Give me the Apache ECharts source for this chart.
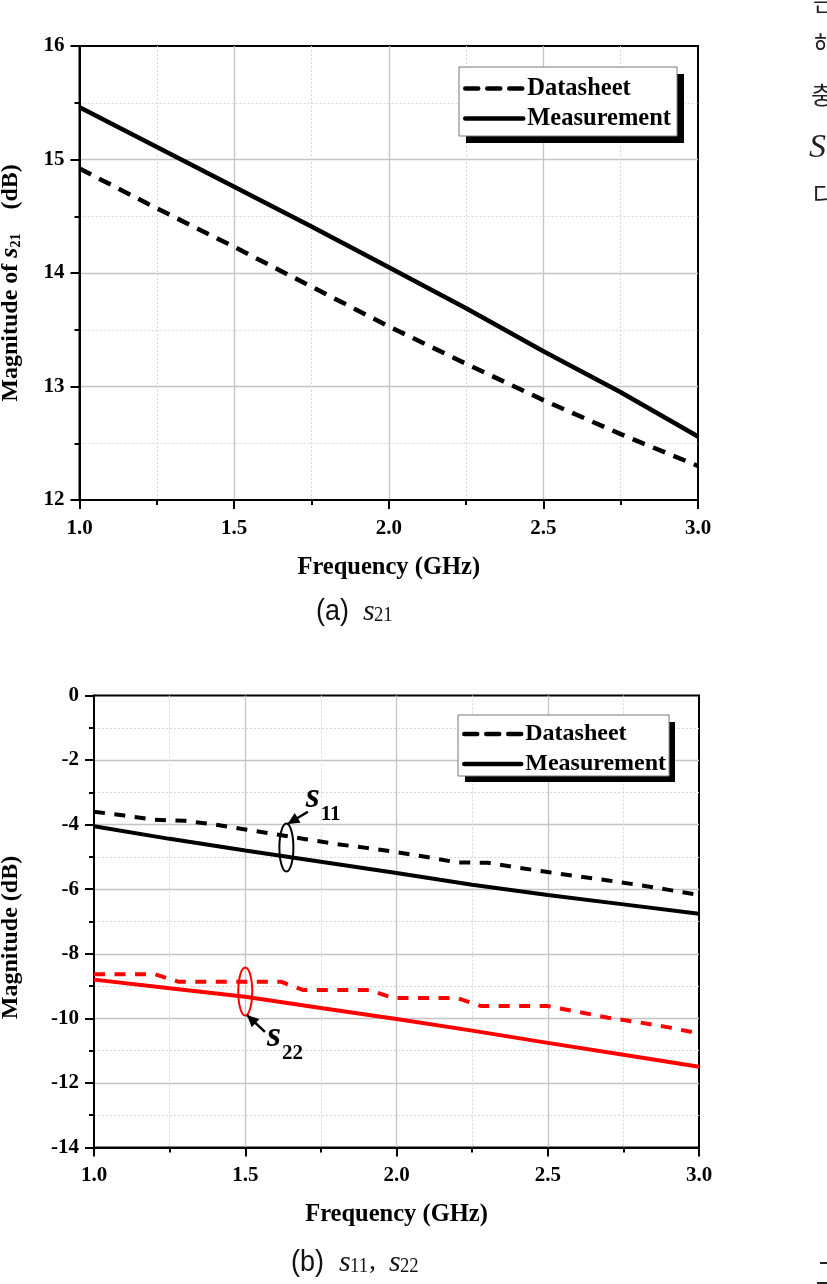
<!DOCTYPE html>
<html>
<head>
<meta charset="utf-8">
<style>
  html, body { margin: 0; padding: 0; background: #fff; }
  #chart { width: 827px; height: 1284px; }
</style>
<script src="https://cdn.jsdelivr.net/npm/echarts@6/dist/echarts.min.js"></script>
</head>
<body>
<div id="chart"></div>
<script>
const FONT = '"Liberation Serif", serif';

// (a) s21
const s21Freq = [1.0, 1.25, 1.5, 1.75, 2.0, 2.25, 2.5, 2.75, 3.0];
const s21Datasheet = [14.92, 14.57, 14.23, 13.88, 13.53, 13.2, 12.88, 12.58, 12.3];
const s21Measurement = [15.46, 15.11, 14.76, 14.41, 14.05, 13.69, 13.31, 12.95, 12.56];

// (b) s11, s22
const s11DatasheetPts = [[1.0, -3.6], [1.1, -3.72], [1.2, -3.85], [1.3, -3.88], [1.4, -4.0], [1.5, -4.15], [1.6, -4.3], [1.7, -4.45], [1.8, -4.6], [1.9, -4.72], [2.0, -4.85], [2.1, -5.0], [2.2, -5.17], [2.3, -5.18], [2.4, -5.33], [2.5, -5.47], [2.6, -5.6], [2.7, -5.73], [2.8, -5.87], [2.9, -6.02], [3.0, -6.18]];
const s11MeasurementPts = [[1.0, -4.05], [1.25, -4.44], [1.5, -4.8], [1.75, -5.15], [2.0, -5.5], [2.25, -5.86], [2.5, -6.18], [2.75, -6.47], [3.0, -6.76]];
const s22DatasheetPts = [[1.0, -8.63], [1.2, -8.63], [1.28, -8.87], [1.62, -8.87], [1.69, -9.12], [1.91, -9.12], [1.99, -9.37], [2.2, -9.37], [2.28, -9.62], [2.5, -9.62], [2.6, -9.8], [2.7, -9.98], [2.8, -10.12], [2.9, -10.28], [3.0, -10.47]];
const s22MeasurementPts = [[1.0, -8.8], [1.25, -9.07], [1.5, -9.33], [1.75, -9.68], [2.0, -10.02], [2.25, -10.38], [2.5, -10.76], [2.75, -11.13], [3.0, -11.5]];

// ellipse: [freq, dB, color], arrow: from / to, label anchor
const ringS11 = [1.636, -4.71, '#000'];
const ringS22 = [1.5, -9.17, '#f00'];
const arrowS11 = [[1.707, -3.6], [1.64, -3.98]];
const arrowS22 = [[1.565, -10.42], [1.506, -9.9]];
const labelS11 = [1.7, -3.17, '11'];
const labelS22 = [1.572, -10.57, '22'];

const xTicks = { min: 1, max: 3, interval: 0.5 };

function xAxis(gridIndex) {
  return {
    type: 'value', gridIndex, ...xTicks,
    name: 'Frequency (GHz)', nameLocation: 'middle', nameGap: 55,
    nameTextStyle: { fontFamily: FONT, fontWeight: 'bold', fontSize: 24.5, color: '#000' },
    axisLine: { onZero: false, lineStyle: { color: '#000', width: 2 } },
    axisTick: { length: 9, lineStyle: { color: '#000', width: 2 } },
    minorTick: { show: true, splitNumber: 2, length: 5, lineStyle: { color: '#000', width: 2 } },
    axisLabel: { fontFamily: FONT, fontWeight: 'bold', fontSize: 21, color: '#000', margin: 18, formatter: v => v.toFixed(1), showMinLabel: true, showMaxLabel: true },
    splitLine: { show: true, showMinLine: false, showMaxLine: false, lineStyle: { color: '#c4c4c4', width: 1.3 } },
    minorSplitLine: { show: true, lineStyle: { color: '#d8d8d8', width: 1, type: [2, 2] } }
  };
}

function yAxis(gridIndex, min, max, interval, name, nameGap, shift) {
  return {
    type: 'value', gridIndex, min, max, interval,
    name, nameLocation: 'middle', nameGap,
    nameTextStyle: {
      fontFamily: FONT, fontWeight: 'bold', fontSize: 24, color: '#000',
      padding: [0, shift, 0, 0],
      rich: {
        a: { fontFamily: FONT, fontWeight: 'bold', fontSize: 24, color: '#000' },
        i: { fontFamily: FONT, fontWeight: 'bold', fontStyle: 'italic', fontSize: 26, color: '#000' },
        sub: { fontFamily: FONT, fontWeight: 'bold', fontSize: 14, color: '#000', verticalAlign: 'bottom', lineHeight: 14 }
      }
    },
    axisLine: { onZero: false, lineStyle: { color: '#000', width: 2 } },
    axisTick: { length: 9, lineStyle: { color: '#000', width: 2 } },
    minorTick: { show: true, splitNumber: 2, length: 5, lineStyle: { color: '#000', width: 2 } },
    axisLabel: { fontFamily: FONT, fontWeight: 'bold', fontSize: 21, color: '#000', margin: 15, padding: [3, 0, 0, 0], showMinLabel: true, showMaxLabel: true },
    splitLine: { show: true, showMinLine: false, showMaxLine: false, lineStyle: { color: '#c4c4c4', width: 1.3 } },
    minorSplitLine: { show: true, lineStyle: { color: '#d8d8d8', width: 1, type: [2, 2] } }
  };
}

function line(name, data, idx, color, dash, width) {
  return {
    type: 'line', name, data, xAxisIndex: idx, yAxisIndex: idx,
    symbol: 'none', silent: true, z: 5,
    lineStyle: { color, width, type: dash || 'solid' },
    itemStyle: { color }
  };
}

function legend(left, top, padding, itemWidth, itemGap, fontSize, lineHeight) {
  return {
    data: ['Datasheet', 'Measurement'], orient: 'vertical', left, top,
    itemWidth, itemHeight: 14, itemGap, padding,
    backgroundColor: '#fff', borderColor: '#777', borderWidth: 1,
    selectedMode: false, z: 10,
    lineStyle: { width: 4.5, cap: 'round' },
    itemStyle: { color: 'transparent', borderColor: 'transparent', borderWidth: 0, opacity: 0 },
    textStyle: { fontFamily: FONT, fontWeight: 'bold', fontSize, color: '#000', lineHeight, padding: [0, 0, 0, -1] }
  };
}

// ring + arrow + label for one group of curves
function annotation(ring, arrow, label) {
  return {
    type: 'custom', xAxisIndex: 1, yAxisIndex: 1, silent: true, z: 8,
    data: [ring], clip: false,
    encode: { x: 0, y: 1 },
    renderItem: (params, api) => {
      const c = api.coord([ring[0], ring[1]]);
      const from = api.coord(arrow[0]);
      const to = api.coord(arrow[1]);
      const at = api.coord([label[0], label[1]]);
      const ang = Math.atan2(to[1] - from[1], to[0] - from[0]);
      const head = (a, r) => [to[0] - r * Math.cos(ang + a), to[1] - r * Math.sin(ang + a)];
      return {
        type: 'group',
        children: [
          { type: 'ellipse', shape: { cx: c[0], cy: c[1], rx: 7, ry: 24 }, style: { fill: 'none', stroke: ring[2], lineWidth: 2 } },
          { type: 'line', shape: { x1: from[0], y1: from[1], x2: to[0], y2: to[1] }, style: { stroke: '#000', lineWidth: 2.5 } },
          { type: 'polygon', shape: { points: [to, head(0.45, 13), head(-0.45, 13)] }, style: { fill: '#000' } },
          { type: 'text', x: at[0], y: at[1], style: { text: 's', fontFamily: FONT, fontWeight: 'bold', fontStyle: 'italic', fontSize: 36, fill: '#000', textVerticalAlign: 'middle' } },
          { type: 'text', x: at[0] + 15, y: at[1] + 17, style: { text: label[2], fontFamily: FONT, fontWeight: 'bold', fontSize: 21, fill: '#000', textVerticalAlign: 'middle' } }
        ]
      };
    }
  };
}

// caption below each panel, "(a)" in a condensed sans
function caption(x, y, letter, parts) {
  const kids = [{ type: 'text', x, y, scaleX: 0.9, style: { text: letter, fontFamily: '"Liberation Sans", sans-serif', fontSize: 30, fill: '#111', textVerticalAlign: 'middle' } }];
  parts.forEach(p => {
    kids.push({ type: 'text', x: p[0], y, style: { text: 's', fontFamily: FONT, fontStyle: 'italic', fontSize: 30, fill: '#111', textVerticalAlign: 'middle' } });
    kids.push({ type: 'text', x: p[0] + 11, y: y + 3, scaleX: 0.85, style: { text: p[1], fontFamily: FONT, fontSize: 22, fill: '#111', textVerticalAlign: 'middle' } });
    if (p[2]) kids.push({ type: 'text', x: p[0] + 30, y: y - 1, style: { text: p[2], fontFamily: FONT, fontSize: 28, fill: '#111', textVerticalAlign: 'middle' } });
  });
  return kids;
}

// cut-off body text at the page's right edge
const edgeGlyphs = [['근', 813, 2], ['해', 814, 44], ['충', 811, 95], ['다', 813, 195]];

const chart = echarts.init(document.getElementById('chart'), null, { renderer: 'canvas' });
chart.setOption({
  animation: false,
  backgroundColor: '#fff',
  grid: [
    { left: 79.5, top: 46, width: 618.5, height: 454, show: true, borderColor: '#000', borderWidth: 2, backgroundColor: 'transparent', outerBoundsMode: 'none' },
    { left: 94, top: 695.5, width: 605, height: 452, show: true, borderColor: '#000', borderWidth: 2, backgroundColor: 'transparent', outerBoundsMode: 'none' }
  ],
  xAxis: [xAxis(0), xAxis(1)],
  yAxis: [
    yAxis(0, 12, 16, 1, '{a|Magnitude of }{i|s}{sub|21}{a|    (dB)}', 56, 20),
    yAxis(1, -14, 0, 2, 'Magnitude (dB)', 71, 32)
  ],
  legend: [legend(459, 67, [9, 6, 5, 4], 58, 5, 24.5, 24), legend(458, 715, [7, 3, 0, 4], 57, 6, 24, 22)],
  series: [
    line('Datasheet', s21Freq.map((f, i) => [f, s21Datasheet[i]]), 0, '#000', [13, 9], 4.5),
    line('Measurement', s21Freq.map((f, i) => [f, s21Measurement[i]]), 0, '#000', null, 4.5),
    line('Datasheet', s11DatasheetPts, 1, '#000', [11, 9.5], 4),
    line('Measurement', s11MeasurementPts, 1, '#000', null, 4),
    line('s22 Datasheet', s22DatasheetPts, 1, '#f00', [11, 9.5], 4),
    line('s22 Measurement', s22MeasurementPts, 1, '#f00', null, 4),
    annotation(ringS11, arrowS11, labelS11),
    annotation(ringS22, arrowS22, labelS22)
  ],
  graphic: [
    // legend drop shadows
    { type: 'rect', z: 9, shape: { x: 466, y: 74, width: 218, height: 69 }, style: { fill: '#000' } },
    { type: 'rect', z: 9, shape: { x: 465, y: 722, width: 210, height: 60 }, style: { fill: '#000' } },
    ...caption(316, 612, '(a)', [[363, '21']]),
    ...caption(291, 1263, '(b)', [[339, '11', ','], [389, '22']]),
    ...edgeGlyphs.map(g => ({ type: 'text', x: g[1], y: g[2], style: { text: g[0], fontFamily: '"Noto Sans CJK KR"', fontSize: 24, fill: '#222', textVerticalAlign: 'middle' } })),
    { type: 'text', x: 809, y: 148, style: { text: 'S', fontFamily: FONT, fontStyle: 'italic', fontSize: 34, fill: '#222', textVerticalAlign: 'middle' } },
    { type: 'rect', shape: { x: 820, y: 1262, width: 7, height: 2 }, style: { fill: '#222' } },
    { type: 'rect', shape: { x: 817, y: 1282, width: 10, height: 2 }, style: { fill: '#222' } }
  ]
});
</script>
</body>
</html>
